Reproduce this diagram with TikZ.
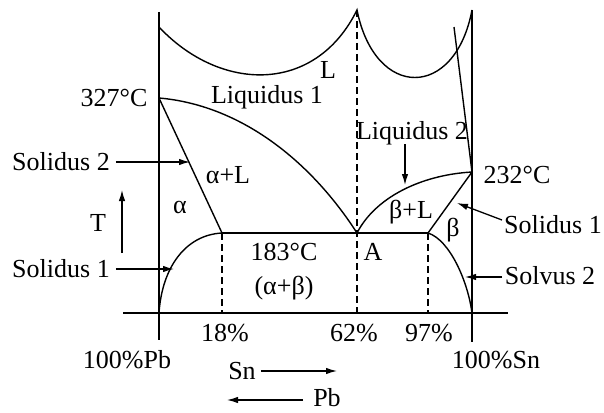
\documentclass[tikz,border=0pt]{standalone}
\usepackage{fontspec}
\setmainfont{Liberation Serif}
\usepackage{tikz}
\usetikzlibrary{positioning,arrows.meta}

\tikzset{
  lbl/.style={inner sep=0pt,font=\fontsize{26}{30}\selectfont},
  phase/.style={line width=1.4pt},
  guide/.style={line width=1.3pt,dash pattern=on 7pt off 4pt},
  pointer/.style={line width=1.3pt,-{Latex[length=11pt,width=6.5pt]}}
}

\begin{document}
\begin{tikzpicture}[x=1pt,y=-1pt]
    \useasboundingbox (0,0) rectangle (604,412);
    % key points of the diagram
    \coordinate (PbTop) at (159,12);
    \coordinate (PbBot) at (159,340);
    \coordinate (SnTop) at (472,10);
    \coordinate (SnBot) at (472,342);
    \coordinate (AxL) at (123,313);
    \coordinate (AxR) at (508,313);
    \coordinate (Pb0) at (159,313);
    \coordinate (Sn0) at (472,313);
    \coordinate (Tpb) at (159,98);
    \coordinate (Tsn) at (472,172);
    \coordinate (Eut) at (357,233);
    \coordinate (Ea) at (222,233);
    \coordinate (Eb) at (428,233);
    \coordinate (Ea0) at (222,313);
    \coordinate (Eb0) at (428,313);
    \coordinate (Cusp) at (357,10);
    \coordinate (Eut0) at (357,313);
    \coordinate (Lstart) at (159,27);
    \coordinate (Slant) at (454,27);
    % axes
    \draw[phase] (PbTop) -- (PbBot);
    \draw[phase] (SnTop) -- (SnBot);
    \draw[phase] (AxL) -- (AxR);
    % liquid region bumps
    \draw[phase] (Lstart) .. controls (220,92) and (315,95) .. (Cusp)
                 .. controls (375,100) and (455,100) .. (SnTop);
    \draw[phase] (Slant) -- (Tsn);
    % phase boundaries
    \draw[phase] (Tpb) .. controls (240,105) and (310,160) .. (Eut);
    \draw[phase] (Tpb) -- (Ea);
    \draw[phase] (Pb0) .. controls (162,268) and (185,235) .. (Ea);
    \draw[phase] (Ea) -- (Eb);
    \draw[phase] (Eut) .. controls (375,198) and (420,175) .. (Tsn);
    \draw[phase] (Eb) -- (Tsn);
    \draw[phase] (Eb) .. controls (450,240) and (468,282) .. (Sn0);
    \draw[guide] (Cusp) -- (Eut0);
    \draw[guide] (Ea) -- (Ea0);
    \draw[guide] (Eb) -- (Eb0);
    % labels
    \node[lbl] (t327) at (114,98) {327°C};
    \node[lbl] (t232) at (517,175) {232°C};
    \node[lbl] (t183) at (284,252) {183°C};
    \node[lbl] (tab) at (284,288) {(α+β)};
    \node[lbl] (tL) at (328,70) {L};
    \node[lbl] (liq1) at (267,97) {Liquidus 1};
    \node[lbl] (liq2) at (412,133) {Liquidus 2};
    \node[lbl] (taL) at (228,175) {α+L};
    \node[lbl] (ta) at (180,207) {α};
    \node[lbl] (tbL) at (411,212) {β+L};
    \node[lbl] (tb) at (453,230) {β};
    \node[lbl] (tA) at (373,252) {A};
    \node[lbl] (sol2) at (61,162) {Solidus 2};
    \node[lbl] (sol1a) at (61,269) {Solidus 1};
    \node[lbl] (sol1b) at (553,225) {Solidus 1};
    \node[lbl] (solv2) at (550,276) {Solvus 2};
    \node[lbl] (tT) at (98,223) {T};
    \node[lbl] (p18) at (225,333) {18\%};
    \node[lbl] (p62) at (354,333) {62\%};
    \node[lbl] (p97) at (429,333) {97\%};
    \node[lbl] (pPb) at (127,360) {100\%Pb};
    \node[lbl] (pSn) at (496,360) {100\%Sn};
    \node[lbl] (tSn) at (242,371) {Sn};
    \node[lbl] (tPb) at (327,398) {Pb};
    % pointers
    \coordinate (s2tip) at (190,162);
    \coordinate (s1tip) at (174,269);
    \coordinate (s1btail) at (502,220);
    \coordinate (s1btip) at (457,203);
    \coordinate (v2tail) at (502,277);
    \coordinate (v2tip) at (465,277);
    \coordinate (l2tail) at (405,144);
    \coordinate (l2tip) at (405,185);
    \coordinate (Tlow) at (122,253);
    \coordinate (Thigh) at (122,190);
    \coordinate (snhead) at (337,371);
    \coordinate (pbtail) at (303,400);
    \coordinate (pbhead) at (227,400);
    \draw[pointer] ([xshift=6pt]sol2.east) -- (s2tip);
    \draw[pointer] ([xshift=6pt]sol1a.east) -- (s1tip);
    \draw[pointer] (s1btail) -- (s1btip);
    \draw[pointer] (v2tail) -- (v2tip);
    \draw[pointer] (l2tail) -- (l2tip);
    \draw[pointer] (Tlow) -- (Thigh);
    \draw[pointer] ([xshift=5pt]tSn.east) -- (snhead);
    \draw[pointer] (pbtail) -- (pbhead);
  \end{tikzpicture}
\end{document}
